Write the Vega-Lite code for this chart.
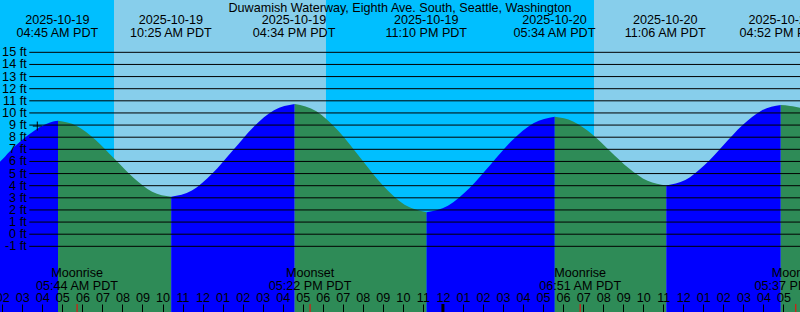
{
  "$schema": "https://vega.github.io/schema/vega-lite/v6.json",
  "width": 800,
  "height": 312,
  "autosize": {"type": "none"},
  "padding": 0,
  "background": "#00BFFF",
  "config": {
    "view": {"stroke": null},
    "text": {"font": "Liberation Sans", "fontSize": 12.6, "color": "black"}
  },
  "datasets": {
    "tide": [
      {"t": "2025-10-19T01:45", "h": 5.80, "seg": "s0", "dir": "rising"},
      {"t": "2025-10-19T01:53", "h": 5.98, "seg": "s0", "dir": "rising"},
      {"t": "2025-10-19T02:23", "h": 6.85, "seg": "s0", "dir": "rising"},
      {"t": "2025-10-19T02:53", "h": 7.62, "seg": "s0", "dir": "rising"},
      {"t": "2025-10-19T03:23", "h": 8.28, "seg": "s0", "dir": "rising"},
      {"t": "2025-10-19T03:53", "h": 8.85, "seg": "s0", "dir": "rising"},
      {"t": "2025-10-19T04:23", "h": 9.22, "seg": "s0", "dir": "rising"},
      {"t": "2025-10-19T04:47", "h": 9.35, "seg": "s0", "dir": "rising"},
      {"t": "2025-10-19T04:47", "h": 9.35, "seg": "s1", "dir": "falling"},
      {"t": "2025-10-19T05:43", "h": 8.93, "seg": "s1", "dir": "falling"},
      {"t": "2025-10-19T06:39", "h": 7.79, "seg": "s1", "dir": "falling"},
      {"t": "2025-10-19T07:36", "h": 6.22, "seg": "s1", "dir": "falling"},
      {"t": "2025-10-19T08:33", "h": 4.66, "seg": "s1", "dir": "falling"},
      {"t": "2025-10-19T09:29", "h": 3.51, "seg": "s1", "dir": "falling"},
      {"t": "2025-10-19T10:26", "h": 3.09, "seg": "s1", "dir": "falling"},
      {"t": "2025-10-19T10:26", "h": 3.09, "seg": "s2", "dir": "rising"},
      {"t": "2025-10-19T11:28", "h": 3.60, "seg": "s2", "dir": "rising"},
      {"t": "2025-10-19T12:29", "h": 5.00, "seg": "s2", "dir": "rising"},
      {"t": "2025-10-19T13:31", "h": 6.92, "seg": "s2", "dir": "rising"},
      {"t": "2025-10-19T14:32", "h": 8.83, "seg": "s2", "dir": "rising"},
      {"t": "2025-10-19T15:34", "h": 10.23, "seg": "s2", "dir": "rising"},
      {"t": "2025-10-19T16:36", "h": 10.74, "seg": "s2", "dir": "rising"},
      {"t": "2025-10-19T16:36", "h": 10.74, "seg": "s3", "dir": "falling"},
      {"t": "2025-10-19T17:41", "h": 10.14, "seg": "s3", "dir": "falling"},
      {"t": "2025-10-19T18:47", "h": 8.51, "seg": "s3", "dir": "falling"},
      {"t": "2025-10-19T19:53", "h": 6.28, "seg": "s3", "dir": "falling"},
      {"t": "2025-10-19T20:59", "h": 4.05, "seg": "s3", "dir": "falling"},
      {"t": "2025-10-19T22:05", "h": 2.42, "seg": "s3", "dir": "falling"},
      {"t": "2025-10-19T23:11", "h": 1.82, "seg": "s3", "dir": "falling"},
      {"t": "2025-10-19T23:11", "h": 1.82, "seg": "s4", "dir": "rising"},
      {"t": "2025-10-20T00:15", "h": 2.35, "seg": "s4", "dir": "rising"},
      {"t": "2025-10-20T01:19", "h": 3.79, "seg": "s4", "dir": "rising"},
      {"t": "2025-10-20T02:23", "h": 5.75, "seg": "s4", "dir": "rising"},
      {"t": "2025-10-20T03:27", "h": 7.72, "seg": "s4", "dir": "rising"},
      {"t": "2025-10-20T04:31", "h": 9.15, "seg": "s4", "dir": "rising"},
      {"t": "2025-10-20T05:35", "h": 9.68, "seg": "s4", "dir": "rising"},
      {"t": "2025-10-20T05:35", "h": 9.68, "seg": "s5", "dir": "falling"},
      {"t": "2025-10-20T06:30", "h": 9.30, "seg": "s5", "dir": "falling"},
      {"t": "2025-10-20T07:26", "h": 8.27, "seg": "s5", "dir": "falling"},
      {"t": "2025-10-20T08:21", "h": 6.85, "seg": "s5", "dir": "falling"},
      {"t": "2025-10-20T09:17", "h": 5.44, "seg": "s5", "dir": "falling"},
      {"t": "2025-10-20T10:13", "h": 4.40, "seg": "s5", "dir": "falling"},
      {"t": "2025-10-20T11:09", "h": 4.02, "seg": "s5", "dir": "falling"},
      {"t": "2025-10-20T11:09", "h": 4.02, "seg": "s6", "dir": "rising"},
      {"t": "2025-10-20T12:06", "h": 4.46, "seg": "s6", "dir": "rising"},
      {"t": "2025-10-20T13:03", "h": 5.68, "seg": "s6", "dir": "rising"},
      {"t": "2025-10-20T14:00", "h": 7.34, "seg": "s6", "dir": "rising"},
      {"t": "2025-10-20T14:57", "h": 8.99, "seg": "s6", "dir": "rising"},
      {"t": "2025-10-20T15:55", "h": 10.21, "seg": "s6", "dir": "rising"},
      {"t": "2025-10-20T16:52", "h": 10.65, "seg": "s6", "dir": "rising"},
      {"t": "2025-10-20T16:52", "h": 10.65, "seg": "s7", "dir": "falling"},
      {"t": "2025-10-20T17:20", "h": 10.58, "seg": "s7", "dir": "falling"},
      {"t": "2025-10-20T17:50", "h": 10.42, "seg": "s7", "dir": "falling"},
      {"t": "2025-10-20T18:20", "h": 10.05, "seg": "s7", "dir": "falling"}
    ],
    "daylight": [
      {"start": "2025-10-19T07:34:40", "end": "2025-10-19T18:09:40"},
      {"start": "2025-10-20T07:32:30", "end": "2025-10-20T19:00:00"}
    ],
    "levels": [
      {"ft": 15, "label": "15 ft"}, {"ft": 14, "label": "14 ft"}, {"ft": 13, "label": "13 ft"},
      {"ft": 12, "label": "12 ft"}, {"ft": 11, "label": "11 ft"}, {"ft": 10, "label": "10 ft"},
      {"ft": 9, "label": "9 ft"}, {"ft": 8, "label": "8 ft"}, {"ft": 7, "label": "7 ft"},
      {"ft": 6, "label": "6 ft"}, {"ft": 5, "label": "5 ft"}, {"ft": 4, "label": "4 ft"},
      {"ft": 3, "label": "3 ft"}, {"ft": 2, "label": "2 ft"}, {"ft": 1, "label": "1 ft"},
      {"ft": 0, "label": "0 ft"}, {"ft": -1, "label": "-1 ft"}
    ],
    "extremes": [
      {"t": "2025-10-19T04:45", "date": "2025-10-19", "time": "04:45 AM PDT"},
      {"t": "2025-10-19T10:25", "date": "2025-10-19", "time": "10:25 AM PDT"},
      {"t": "2025-10-19T16:34", "date": "2025-10-19", "time": "04:34 PM PDT"},
      {"t": "2025-10-19T23:10", "date": "2025-10-19", "time": "11:10 PM PDT"},
      {"t": "2025-10-20T05:34", "date": "2025-10-20", "time": "05:34 AM PDT"},
      {"t": "2025-10-20T11:06", "date": "2025-10-20", "time": "11:06 AM PDT"},
      {"t": "2025-10-20T16:52", "date": "2025-10-20", "time": "04:52 PM PDT"}
    ],
    "moon": [
      {"t": "2025-10-19T05:44", "event": "Moonrise", "time": "05:44 AM PDT"},
      {"t": "2025-10-19T17:22", "event": "Moonset", "time": "05:22 PM PDT"},
      {"t": "2025-10-20T06:51", "event": "Moonrise", "time": "06:51 AM PDT"},
      {"t": "2025-10-20T17:37", "event": "Moonset", "time": "05:37 PM PDT"}
    ],
    "mark": [
      {"t": "2025-10-19T03:44:55", "h": 8.92}
    ],
    "midnight": [
      {"t": "2025-10-20T00:00"}
    ]
  },
  "layer": [
    {
      "data": {"name": "daylight"},
      "mark": {"type": "rect", "color": "#87CEEB", "clip": true},
      "encoding": {
        "x": {"field": "start", "type": "temporal",
              "scale": {"domain": [{"year": 2025, "month": 10, "date": 19, "hours": 1, "minutes": 53, "seconds": 12}, {"year": 2025, "month": 10, "date": 20, "hours": 17, "minutes": 49, "seconds": 36}], "nice": false},
              "axis": {"orient": "top", "offset": -312, "domain": false, "grid": false, "title": null,
                       "tickSize": 8, "tickColor": "black", "tickWidth": 1,
                       "tickCount": 40, "format": "%I",
                       "labelColor": "black", "labelFont": "Liberation Sans", "labelFontSize": 12.6,
                       "labelPadding": 2.3, "labelBaseline": "alphabetic", "labelOverlap": false,
                       "labelFlush": false, "labelBound": false, "zindex": 1}},
        "x2": {"field": "end"}
      }
    },
    {
      "data": {"name": "tide"},
      "mark": {"type": "area", "interpolate": "monotone", "clip": true},
      "encoding": {
        "x": {"field": "t", "type": "temporal"},
        "y": {"field": "h", "type": "quantitative", "stack": null, "axis": null,
              "scale": {"domain": [-6.417, 19.315], "nice": false, "zero": false}},
        "y2": {"datum": -6.417},
        "color": {"field": "dir", "type": "nominal", "legend": null,
                  "scale": {"domain": ["rising", "falling"], "range": ["#0000FF", "#2E8B57"]}},
        "detail": {"field": "seg"}
      }
    },
    {
      "data": {"name": "levels"},
      "mark": {"type": "rule", "color": "black", "strokeWidth": 1, "clip": true},
      "encoding": {
        "y": {"field": "ft", "type": "quantitative"},
        "x": {"datum": {"year": 2025, "month": 10, "date": 19, "hours": 3, "minutes": 21}, "type": "temporal"},
        "x2": {"datum": {"year": 2025, "month": 10, "date": 20, "hours": 17, "minutes": 49, "seconds": 36}}
      }
    },
    {
      "data": {"name": "levels"},
      "mark": {"type": "text", "align": "right", "baseline": "middle"},
      "encoding": {
        "y": {"field": "ft", "type": "quantitative"},
        "x": {"datum": {"year": 2025, "month": 10, "date": 19, "hours": 3, "minutes": 13}, "type": "temporal"},
        "text": {"field": "label"}
      }
    },
    {
      "data": {"name": "mark"},
      "mark": {"type": "point", "shape": "M-1,0H1M0,-1V1", "filled": false, "stroke": "black", "strokeWidth": 1, "size": 81, "opacity": 1},
      "encoding": {
        "x": {"field": "t", "type": "temporal"},
        "y": {"field": "h", "type": "quantitative"}
      }
    },
    {
      "data": {"name": "extremes"},
      "mark": {"type": "text", "align": "center", "baseline": "alphabetic"},
      "encoding": {
        "x": {"field": "t", "type": "temporal"},
        "y": {"datum": 17.34, "type": "quantitative"},
        "text": {"field": "date"}
      }
    },
    {
      "data": {"name": "extremes"},
      "mark": {"type": "text", "align": "center", "baseline": "alphabetic"},
      "encoding": {
        "x": {"field": "t", "type": "temporal"},
        "y": {"datum": 16.29, "type": "quantitative"},
        "text": {"field": "time"}
      }
    },
    {
      "data": {"name": "moon"},
      "mark": {"type": "text", "align": "center", "baseline": "alphabetic"},
      "encoding": {
        "x": {"field": "t", "type": "temporal"},
        "y": {"datum": -3.555, "type": "quantitative"},
        "text": {"field": "event"}
      }
    },
    {
      "data": {"name": "moon"},
      "mark": {"type": "text", "align": "center", "baseline": "alphabetic"},
      "encoding": {
        "x": {"field": "t", "type": "temporal"},
        "y": {"datum": -4.60, "type": "quantitative"},
        "text": {"field": "time"}
      }
    },
    {
      "data": {"name": "moon"},
      "mark": {"type": "rule", "color": "red", "strokeWidth": 1},
      "encoding": {
        "x": {"field": "t", "type": "temporal"},
        "y": {"datum": -6.417, "type": "quantitative"},
        "y2": {"datum": -5.757}
      }
    },
    {
      "data": {"name": "midnight"},
      "mark": {"type": "rule", "color": "black", "strokeWidth": 3},
      "encoding": {
        "x": {"field": "t", "type": "temporal"},
        "y": {"datum": -6.417, "type": "quantitative"},
        "y2": {"datum": -5.757}
      }
    },
    {
      "data": {"values": [{"title": "Duwamish Waterway, Eighth Ave. South, Seattle, Washington"}]},
      "mark": {"type": "text", "align": "center", "baseline": "alphabetic"},
      "encoding": {
        "x": {"datum": {"year": 2025, "month": 10, "date": 19, "hours": 21, "minutes": 51, "seconds": 24}, "type": "temporal"},
        "y": {"datum": 18.35, "type": "quantitative"},
        "text": {"field": "title"}
      }
    }
  ]
}
